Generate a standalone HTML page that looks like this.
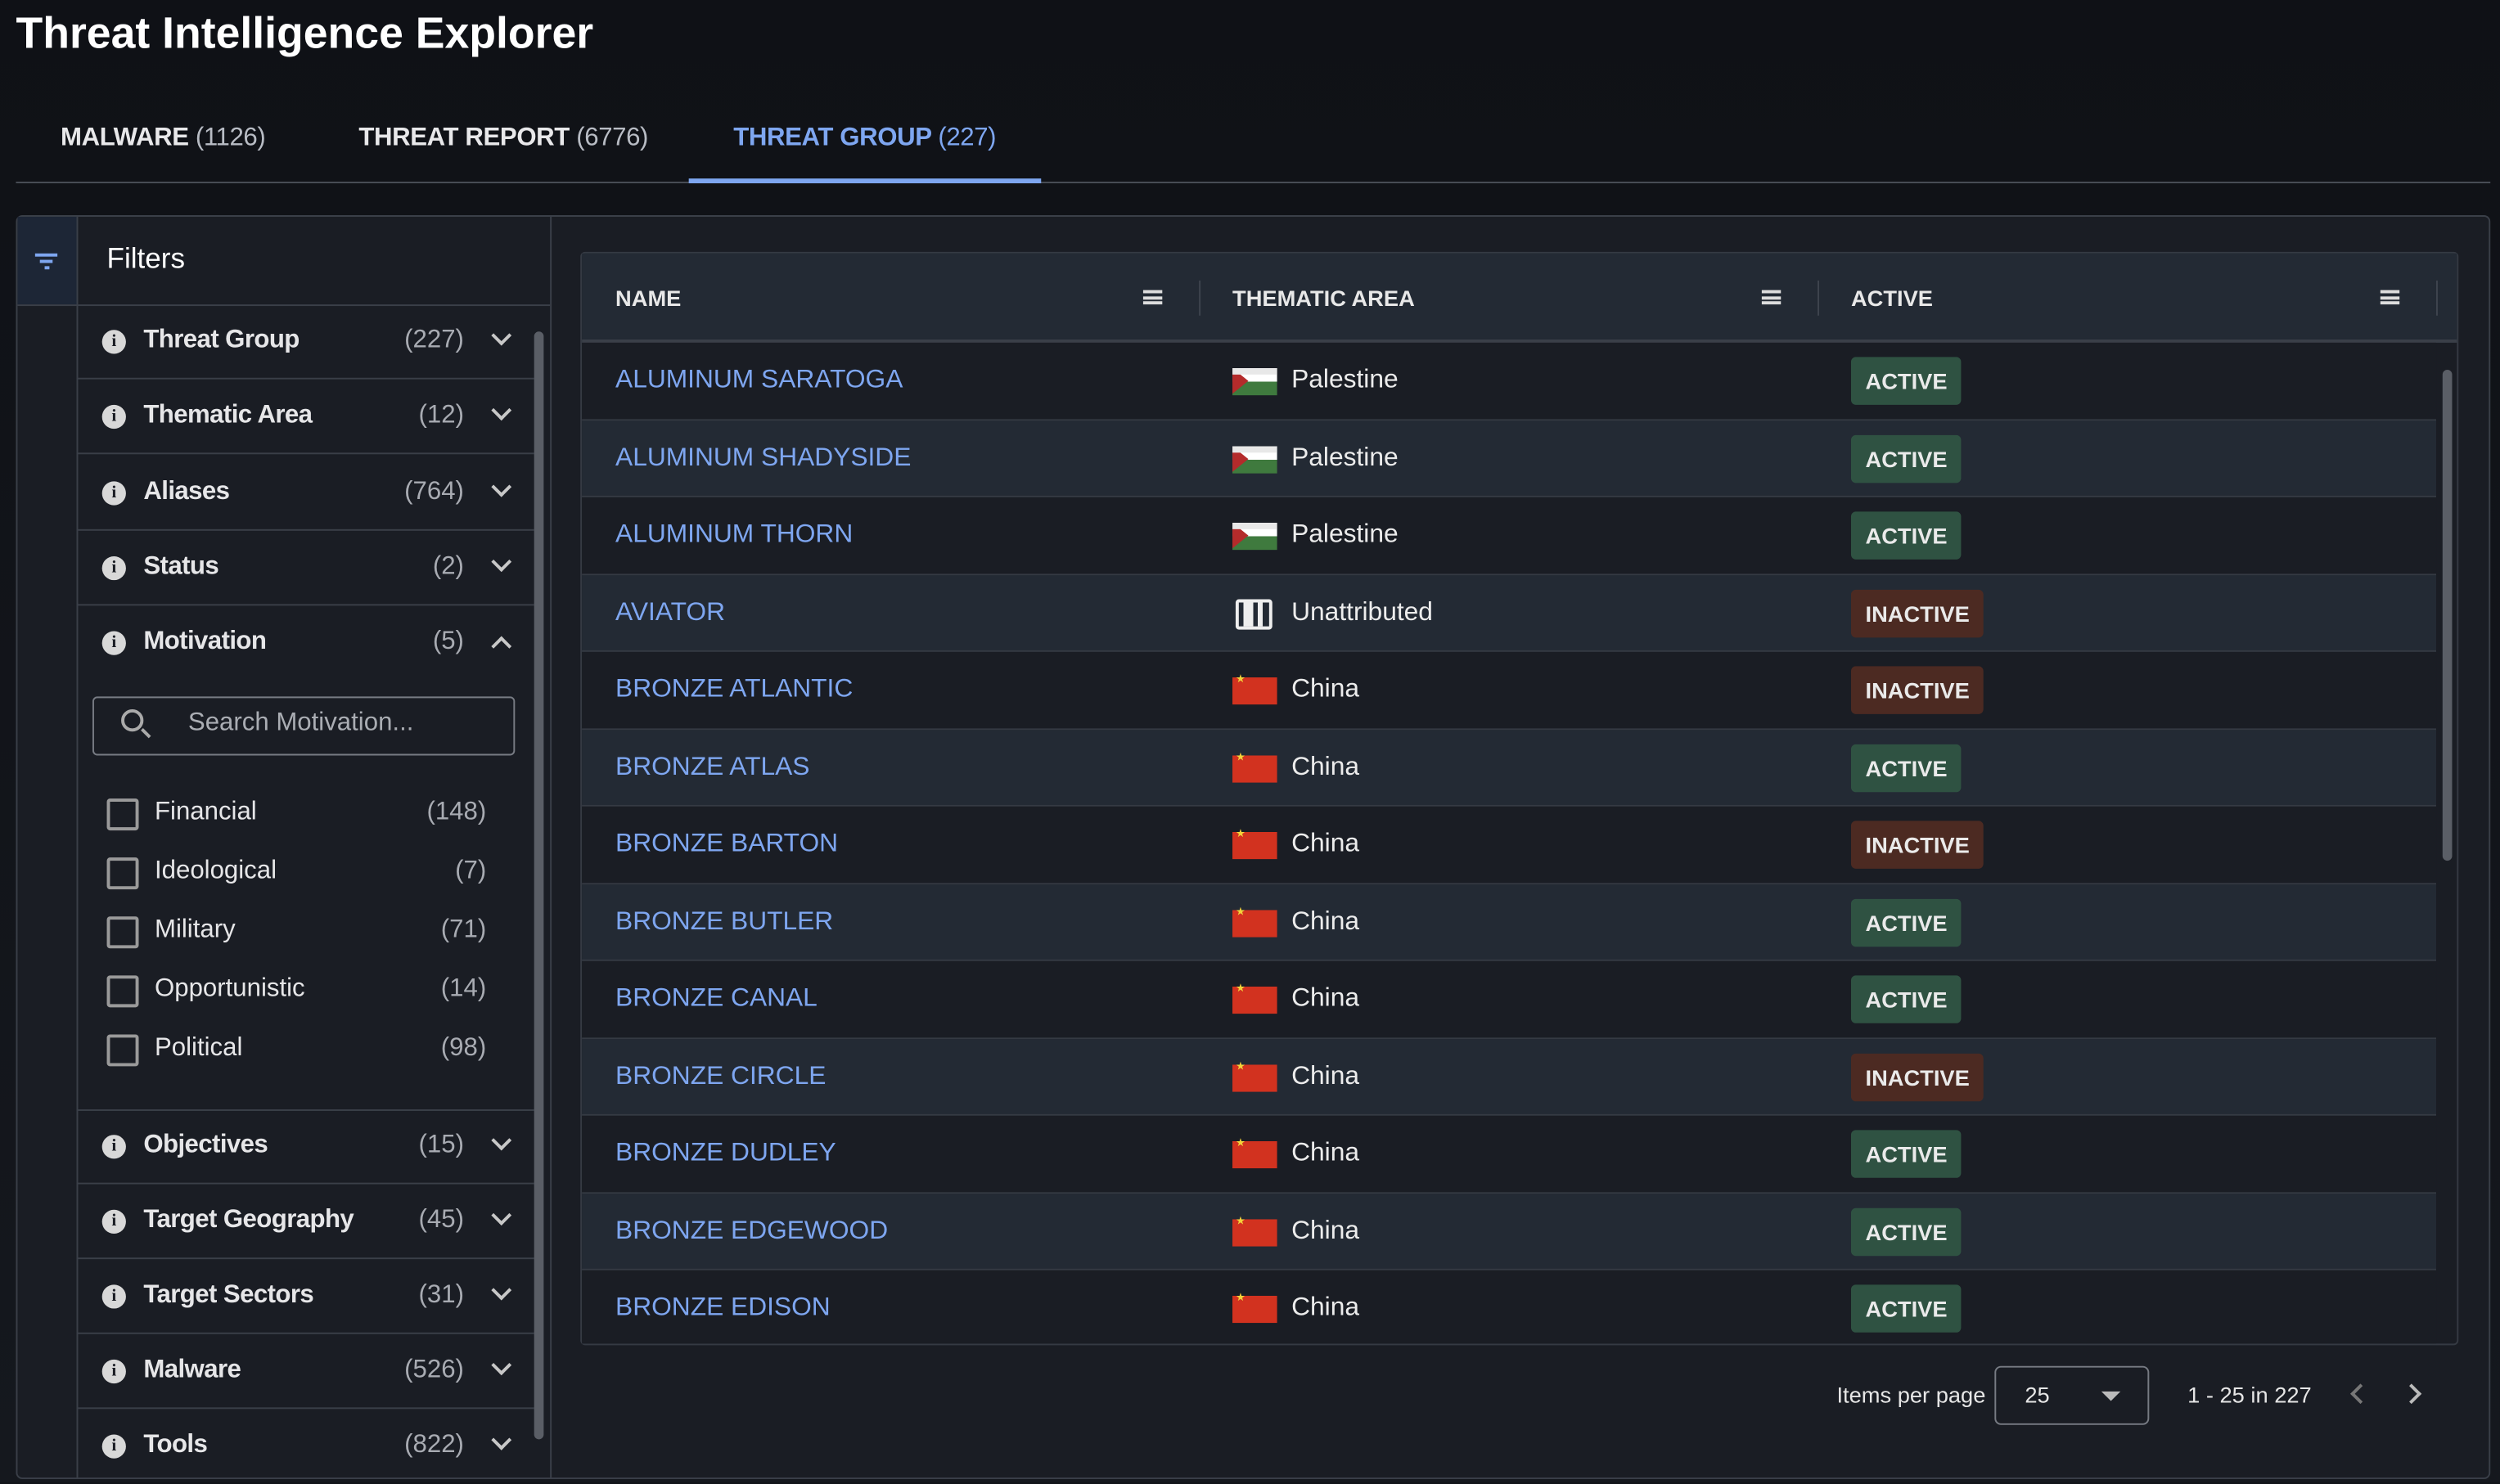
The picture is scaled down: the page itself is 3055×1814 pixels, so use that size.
<!DOCTYPE html>
<html><head><meta charset="utf-8"><style>
*{margin:0;padding:0;box-sizing:border-box}
html,body{width:3055px;height:1811px;overflow:hidden;background:#111419}
#s{position:absolute;left:0;top:0;width:1568px;height:930px;transform:scale(1.9483);transform-origin:0 0;font-family:"Liberation Sans",sans-serif;color:#e8e8ea;background:linear-gradient(180deg,#0f1116 0%,#15181e 100%)}
.a{position:absolute;white-space:nowrap}
.tab{font-size:16px;font-weight:bold;top:78px;letter-spacing:-0.2px}
.tab span{font-weight:normal;color:#b8bcc4}
.fr{position:absolute;left:48px;width:287px;height:47px;border-bottom:1px solid #3a3f48}
.fr .i{position:absolute;left:16px;top:16px;width:15px;height:15px;border-radius:50%;background:#d8d8d8;color:#1a1d24;font-size:11px;font-weight:bold;text-align:center;line-height:15px;font-family:"Liberation Serif",serif}
.fr .l{position:absolute;left:42px;top:14px;font-size:16px;font-weight:bold;color:#e6e6e8;letter-spacing:-0.3px}
.fr .c{position:absolute;right:44px;top:14px;font-size:16px;color:#a8abb2}
.fr .v{position:absolute;right:16px;top:15px;width:9px;height:9px;border-right:2px solid #c8c8c8;border-bottom:2px solid #c8c8c8;transform:rotate(45deg)}
.fr .v.up{top:21px;transform:rotate(-135deg)}
.cb{position:absolute;left:67px;width:20px;height:20px;border:2px solid #9a9a9a;border-radius:2px}
.cl{position:absolute;left:97px;font-size:16px;color:#e6e6e8}
.cc{position:absolute;right:1263px;font-size:16px;color:#a8abb2}
.row{position:absolute;left:365px;width:1163px;height:48.5px;border-bottom:1px solid #353a43}
.row .n{position:absolute;left:21px;top:14px;font-size:16.3px;color:#7ea6f0}
.row .t{position:absolute;left:445px;top:14px;font-size:16.3px;color:#ececec}
.row .f{position:absolute;left:408px;top:16px;width:28px;height:17px}
.b{position:absolute;left:796px;top:9px;height:30px;padding:0 9px;line-height:30px;font-size:14px;font-weight:bold;color:#eaeaea;border-radius:3px}
.ac{background:#2f5242}.in{background:#4c2a22}
.ps{background:linear-gradient(#fff 0 50%,#3f7a3e 50% 100%);border-top:0}
.ps:before{content:"";position:absolute;left:0;top:0;border-left:10px solid #b42b2b;border-top:8.5px solid transparent;border-bottom:8.5px solid transparent}
.ps:after{content:"";position:absolute;left:0;right:0;top:0;height:4px;background:#e8e8e8}
.cn{background:#d2321f}
.cn:before{content:"★";position:absolute;left:2px;top:-3px;font-size:7px;color:#f4d23a}
.hd{position:absolute;top:179px;font-size:14px;font-weight:bold;color:#e8e8e8}
.mn{position:absolute;top:182px;width:12px;height:9px;border-top:2px solid #ddd;border-bottom:2px solid #ddd}
.mn:after{content:"";position:absolute;left:0;right:0;top:1.5px;height:2px;background:#ddd}
.sep{position:absolute;top:176px;width:1px;height:22px;background:#3e444e}
</style></head><body><div id="s">
<div class="a" style="left:10px;top:5px;font-size:27.5px;font-weight:bold;color:#fff">Threat Intelligence Explorer</div>
<div class="a tab" style="left:38px">MALWARE <span>(1126)</span></div>
<div class="a tab" style="left:225px">THREAT REPORT <span>(6776)</span></div>
<div class="a tab" style="left:460px;color:#7ea6f0">THREAT GROUP <span style="color:#7ea6f0">(227)</span></div>
<div class="a" style="left:10px;top:114px;width:1552px;height:1px;background:#4a4f58"></div>
<div class="a" style="left:432px;top:112px;width:221px;height:3px;background:#7ea6f0"></div>

<div class="a" style="left:10px;top:135px;width:1552px;height:793px;background:#1a1d24;border:1px solid #3a3f48;border-radius:4px"></div>
<div class="a" style="left:11px;top:136px;width:37px;height:55px;background:#1d2636"></div>
<div class="a" style="left:48px;top:136px;width:1px;height:792px;background:#3a3f48"></div>
<div class="a" style="left:345px;top:136px;width:1px;height:792px;background:#3a3f48"></div>
<div class="a" style="left:11px;top:191px;width:334px;height:1px;background:#3a3f48"></div>
<div class="a" style="left:22px;top:159px;width:14px;height:2px;background:#7ea6f0"></div>
<div class="a" style="left:25px;top:163px;width:8px;height:2px;background:#7ea6f0"></div>
<div class="a" style="left:28px;top:167px;width:3px;height:2px;background:#7ea6f0"></div>
<div class="a" style="left:67px;top:152px;font-size:18px;color:#fff">Filters</div>

<div class="fr" style="top:191px"><div class="i">i</div><div class="l">Threat Group</div><div class="c">(227)</div><div class="v"></div></div>
<div class="fr" style="top:238px"><div class="i">i</div><div class="l">Thematic Area</div><div class="c">(12)</div><div class="v"></div></div>
<div class="fr" style="top:286px"><div class="i">i</div><div class="l">Aliases</div><div class="c">(764)</div><div class="v"></div></div>
<div class="fr" style="top:333px"><div class="i">i</div><div class="l">Status</div><div class="c">(2)</div><div class="v"></div></div>
<div class="fr" style="top:380px;border:none"><div class="i">i</div><div class="l">Motivation</div><div class="c">(5)</div><div class="v up"></div></div>
<div class="a" style="left:58px;top:437px;width:265px;height:37px;border:1px solid #777b83;border-radius:3px"></div>
<div class="a" style="left:76px;top:445px;width:14px;height:14px;border:2px solid #aaa;border-radius:50%"></div>
<div class="a" style="left:88px;top:459px;width:7px;height:2px;background:#aaa;transform:rotate(45deg)"></div>
<div class="a" style="left:118px;top:445px;font-size:16px;color:#aaadb3">Search Motivation...</div>
<div class="cb" style="top:501px"></div><div class="cl a" style="top:501px">Financial</div><div class="cc a" style="top:501px">(148)</div>
<div class="cb" style="top:538px"></div><div class="cl a" style="top:538px">Ideological</div><div class="cc a" style="top:538px">(7)</div>
<div class="cb" style="top:575px"></div><div class="cl a" style="top:575px">Military</div><div class="cc a" style="top:575px">(71)</div>
<div class="cb" style="top:612px"></div><div class="cl a" style="top:612px">Opportunistic</div><div class="cc a" style="top:612px">(14)</div>
<div class="cb" style="top:649px"></div><div class="cl a" style="top:649px">Political</div><div class="cc a" style="top:649px">(98)</div>
<div class="a" style="left:48px;top:696px;width:287px;height:1px;background:#3a3f48"></div>
<div class="fr" style="top:696px"><div class="i">i</div><div class="l">Objectives</div><div class="c">(15)</div><div class="v"></div></div>
<div class="fr" style="top:743px"><div class="i">i</div><div class="l">Target Geography</div><div class="c">(45)</div><div class="v"></div></div>
<div class="fr" style="top:790px"><div class="i">i</div><div class="l">Target Sectors</div><div class="c">(31)</div><div class="v"></div></div>
<div class="fr" style="top:837px"><div class="i">i</div><div class="l">Malware</div><div class="c">(526)</div><div class="v"></div></div>
<div class="fr" style="top:884px;border:none"><div class="i">i</div><div class="l">Tools</div><div class="c">(822)</div><div class="v"></div></div>
<div class="a" style="left:335px;top:208px;width:6px;height:695px;background:#5a5e66;border-radius:3px"></div>

<div class="a" style="left:364px;top:158px;width:1178px;height:686px;border:1px solid #353a43;border-radius:3px;background:#1a1d24"></div>
<div class="a" style="left:365px;top:159px;width:1176px;height:56px;background:#232a34;border-bottom:2px solid #3a3f48"></div>
<div class="hd" style="left:386px">NAME</div><div class="mn" style="left:717px"></div><div class="sep" style="left:752px"></div>
<div class="hd" style="left:773px">THEMATIC AREA</div><div class="mn" style="left:1105px"></div><div class="sep" style="left:1140px"></div>
<div class="hd" style="left:1161px">ACTIVE</div><div class="mn" style="left:1493px"></div><div class="sep" style="left:1528px"></div>

<div class="row" style="top:215px;background:#1a1d24"><div class="n">ALUMINUM SARATOGA</div><div class="f ps"></div><div class="t">Palestine</div><div class="b ac">ACTIVE</div></div>
<div class="row" style="top:263.5px;background:#232a34"><div class="n">ALUMINUM SHADYSIDE</div><div class="f ps"></div><div class="t">Palestine</div><div class="b ac">ACTIVE</div></div>
<div class="row" style="top:312px;background:#1a1d24"><div class="n">ALUMINUM THORN</div><div class="f ps"></div><div class="t">Palestine</div><div class="b ac">ACTIVE</div></div>
<div class="row" style="top:360.5px;background:#232a34"><div class="n">AVIATOR</div><div class="f" style="left:410px;top:15px;width:23px;height:19px;border:2px solid #eee;border-radius:2px;background:linear-gradient(90deg,transparent 3px,#eee 3px 9px,transparent 9px 12px,#eee 12px 15px,transparent 15px)"></div><div class="t">Unattributed</div><div class="b in">INACTIVE</div></div>
<div class="row" style="top:409px;background:#1a1d24"><div class="n">BRONZE ATLANTIC</div><div class="f cn"></div><div class="t">China</div><div class="b in">INACTIVE</div></div>
<div class="row" style="top:457.5px;background:#232a34"><div class="n">BRONZE ATLAS</div><div class="f cn"></div><div class="t">China</div><div class="b ac">ACTIVE</div></div>
<div class="row" style="top:506px;background:#1a1d24"><div class="n">BRONZE BARTON</div><div class="f cn"></div><div class="t">China</div><div class="b in">INACTIVE</div></div>
<div class="row" style="top:554.5px;background:#232a34"><div class="n">BRONZE BUTLER</div><div class="f cn"></div><div class="t">China</div><div class="b ac">ACTIVE</div></div>
<div class="row" style="top:603px;background:#1a1d24"><div class="n">BRONZE CANAL</div><div class="f cn"></div><div class="t">China</div><div class="b ac">ACTIVE</div></div>
<div class="row" style="top:651.5px;background:#232a34"><div class="n">BRONZE CIRCLE</div><div class="f cn"></div><div class="t">China</div><div class="b in">INACTIVE</div></div>
<div class="row" style="top:700px;background:#1a1d24"><div class="n">BRONZE DUDLEY</div><div class="f cn"></div><div class="t">China</div><div class="b ac">ACTIVE</div></div>
<div class="row" style="top:748.5px;background:#232a34"><div class="n">BRONZE EDGEWOOD</div><div class="f cn"></div><div class="t">China</div><div class="b ac">ACTIVE</div></div>
<div class="row" style="top:797px;background:#1a1d24;height:46px;border:none"><div class="n">BRONZE EDISON</div><div class="f cn"></div><div class="t">China</div><div class="b ac">ACTIVE</div></div>
<div class="a" style="left:1532px;top:232px;width:6px;height:308px;background:#5a5e66;border-radius:3px"></div>

<div class="a" style="left:1152px;top:867px;font-size:14px;color:#e6e6e6">Items per page</div>
<div class="a" style="left:1251px;top:857px;width:97px;height:37px;border:1px solid #777b83;border-radius:4px"></div>
<div class="a" style="left:1270px;top:867px;font-size:14px;color:#e6e6e6">25</div>
<div class="a" style="left:1318px;top:873px;border-left:6px solid transparent;border-right:6px solid transparent;border-top:6px solid #bbb"></div>
<div class="a" style="left:1372px;top:867px;font-size:14px;color:#e6e6e6">1 - 25 in 227</div>
<div class="a" style="left:1476px;top:870px;width:9px;height:9px;border-left:2px solid #777;border-bottom:2px solid #777;transform:rotate(45deg)"></div>
<div class="a" style="left:1508px;top:870px;width:9px;height:9px;border-right:2px solid #bbb;border-top:2px solid #bbb;transform:rotate(45deg)"></div>
</div></body></html>
